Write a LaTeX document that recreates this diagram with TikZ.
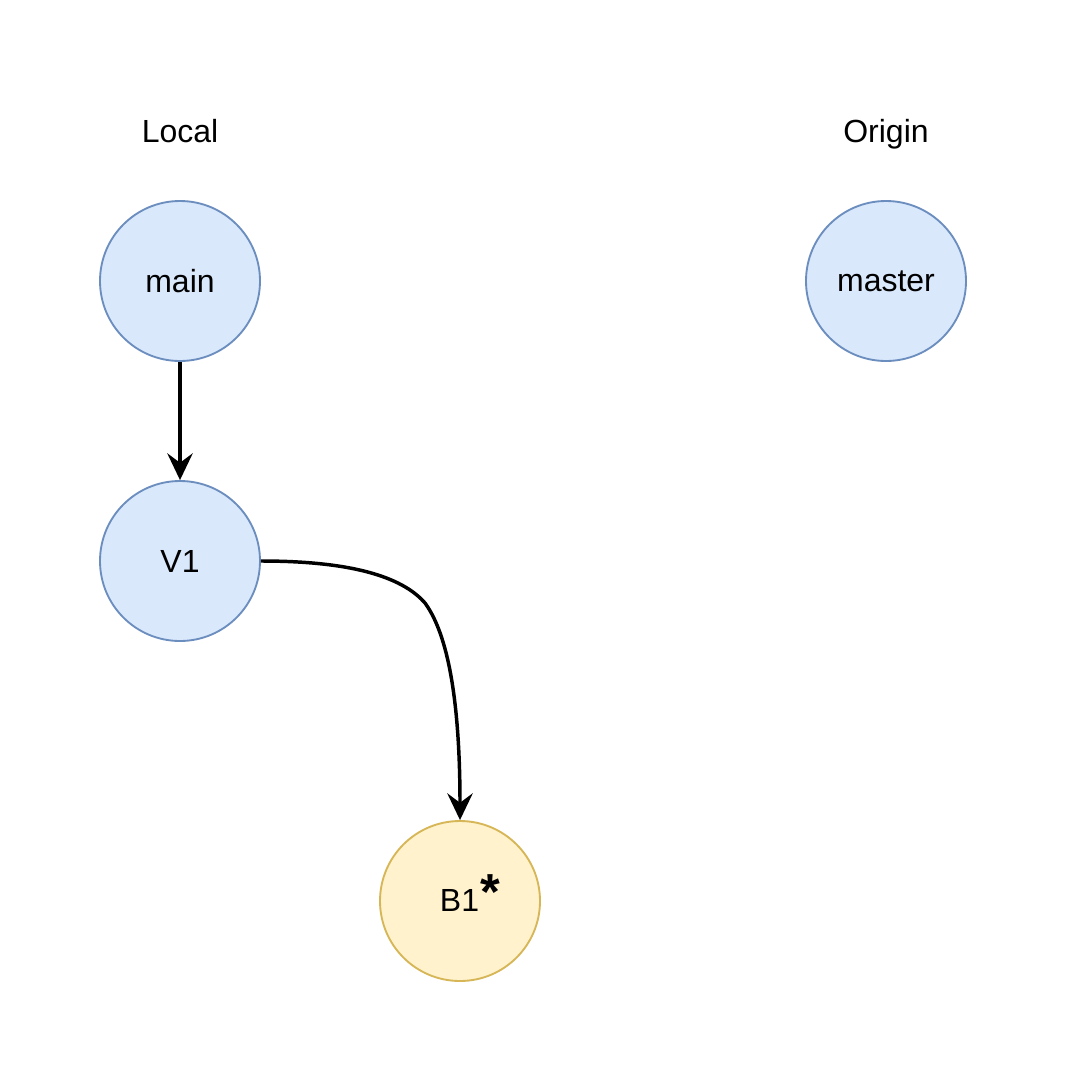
\documentclass[tikz,border=0pt]{standalone}
\usepackage{fontspec}
\setmainfont{Liberation Sans}
\usetikzlibrary{arrows.meta}
\definecolor{bfill}{HTML}{DAE8FC}
\definecolor{bline}{HTML}{6C8EBF}
\definecolor{yfill}{HTML}{FFF2CC}
\definecolor{yline}{HTML}{D6B656}
\begin{document}
\begin{tikzpicture}[x=0.75pt,y=-0.75pt,
  blue/.style={circle,draw=bline,fill=bfill,line width=1.4pt,minimum size=120pt,inner sep=0pt,font=\fontsize{24pt}{28pt}\selectfont},
  yel/.style={circle,draw=yline,fill=yfill,line width=1.4pt,minimum size=120pt,inner sep=0pt,font=\fontsize{24pt}{28pt}\selectfont},
  lbl/.style={font=\fontsize{24pt}{28pt}\selectfont,inner sep=0pt,text height=17pt,text depth=5pt},
  conn/.style={line width=2.6pt,-{Stealth[length=20pt,width=19pt,inset=7pt]}}]
\useasboundingbox (0,0) rectangle (1068,1082);
\fill[white] (0,0) rectangle (1068,1082);
\node[lbl] (local) at (180,134) {Local};
\node[lbl] (origin) at (886,134) {Origin};
\node[blue] (main) at (180,281) {main};
\node[blue] (v1) at (180,561) {V1};
\node[blue] (master) at (886,281) {master};
\node[yel] (b1) at (460,901) {};
\node[font=\fontsize{24pt}{28pt}\selectfont,inner sep=0pt] (b1t) at (470,893) {B1\kern1pt\raisebox{1pt}{\fontsize{38pt}{38pt}\selectfont\bfseries*}};
\draw[conn] (main) -- (v1);
\draw[conn] (v1.east) .. controls (360,561) and (405,580) .. (425,603) .. controls (452,640) and (460,720) .. (b1.north);
\end{tikzpicture}
\end{document}
